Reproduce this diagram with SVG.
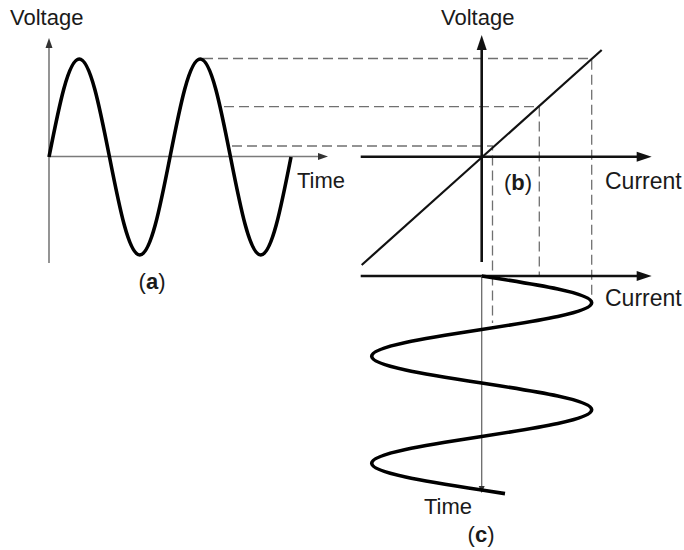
<svg xmlns="http://www.w3.org/2000/svg" width="684" height="550" viewBox="0 0 684 550">
<style>
  text { font-family: "Liberation Sans", Arial, sans-serif; font-size: 22px; fill: #1a1a1a; }
  .cur { font-size: 23px; }
  .bold { font-weight: bold; }
  .wave { fill: none; stroke: #000; stroke-width: 3.6; stroke-linejoin: round; stroke-linecap: butt; }
  .axis-gray { fill: none; stroke: #7a7a7a; stroke-width: 1.6; }
  .axis-black { fill: none; stroke: #111; stroke-width: 2.6; }
  .axis-thin { fill: none; stroke: #6a6a6a; stroke-width: 1.3; }
  .diag { fill: none; stroke: #111; stroke-width: 2.2; }
  .dash { fill: none; stroke: #707070; stroke-width: 1.3; stroke-dasharray: 10 5; }
</style>
<defs>
  <marker id="ahBig" markerUnits="userSpaceOnUse" markerWidth="16" markerHeight="10" refX="1" refY="5" orient="auto" overflow="visible">
    <path d="M0,0 L15,5 L0,10 z" fill="#111"/>
  </marker>
  <marker id="ahSmall" markerUnits="userSpaceOnUse" markerWidth="11" markerHeight="7" refX="1" refY="3.5" orient="auto" overflow="visible">
    <path d="M0,0 L10,3.5 L0,7 z" fill="#333"/>
  </marker>
  <marker id="ahTiny" markerUnits="userSpaceOnUse" markerWidth="8" markerHeight="6" refX="1" refY="3" orient="auto" overflow="visible">
    <path d="M0,0 L7,3 L0,6 z" fill="#333"/>
  </marker>
</defs>

<g id="connectors">
  <path class="dash" d="M203,58.5 H591.7 V303"/>
  <path class="dash" d="M224,106.7 H539.3 V276"/>
  <path class="dash" d="M232,146 H492.5 V323"/>
</g>

<g id="panel-a">
  <line class="axis-gray" x1="49" y1="263" x2="49" y2="47" marker-end="url(#ahSmall)"/>
  <line class="axis-gray" x1="49" y1="156.5" x2="319" y2="156.5" marker-end="url(#ahSmall)"/>
  <path class="wave" d="M49,157 C58.87,106.8 68.3,59 79.25,59 C90.2,59 99.63,106.8 109.5,157 C119.37,207.2 128.8,255 139.75,255 C150.7,255 160.13,207.2 170,157 C179.87,106.8 189.3,59 200.25,59 C211.2,59 220.63,106.8 230.5,157 C240.37,207.2 249.8,255 260.75,255 C271.7,255 281.13,207.2 291,157"/>
  <text x="10" y="25">Voltage</text>
  <text x="297" y="188">Time</text>
  <text x="152" y="289" text-anchor="middle">(<tspan class="bold">a</tspan>)</text>
</g>

<g id="panel-b">
  <line class="axis-black" x1="481.7" y1="262" x2="481.7" y2="49" marker-end="url(#ahBig)"/>
  <line class="axis-black" x1="360.7" y1="156.7" x2="637.7" y2="156.7" marker-end="url(#ahBig)"/>
  <line class="diag" x1="361.7" y1="265" x2="601.7" y2="50"/>
  <text x="441" y="25">Voltage</text>
  <text class="cur" x="605" y="189">Current</text>
  <text x="518" y="190" text-anchor="middle">(<tspan class="bold">b</tspan>)</text>
</g>

<g id="panel-c">
  <line class="axis-black" x1="360.7" y1="276" x2="637.7" y2="276" marker-end="url(#ahBig)"/>
  <line class="axis-thin" x1="481.7" y1="276" x2="481.7" y2="487" marker-end="url(#ahTiny)"/>
  <path class="wave" d="M481.7,276 C538.05,284.72 591.7,293.07 591.7,302.75 C591.7,312.43 538.05,320.78 481.7,329.5 C425.35,338.22 371.7,346.57 371.7,356.25 C371.7,365.93 425.35,374.28 481.7,383 C538.05,391.72 591.7,400.07 591.7,409.75 C591.7,419.43 538.05,427.78 481.7,436.5 C425.35,445.22 371.7,453.57 371.7,463.25 C371.7,472.93 425.35,481.28 481.7,490 L505,493.6"/>
  <text class="cur" x="605" y="306">Current</text>
  <text x="424" y="514">Time</text>
  <text x="481" y="542" text-anchor="middle">(<tspan class="bold">c</tspan>)</text>
</g>
</svg>
